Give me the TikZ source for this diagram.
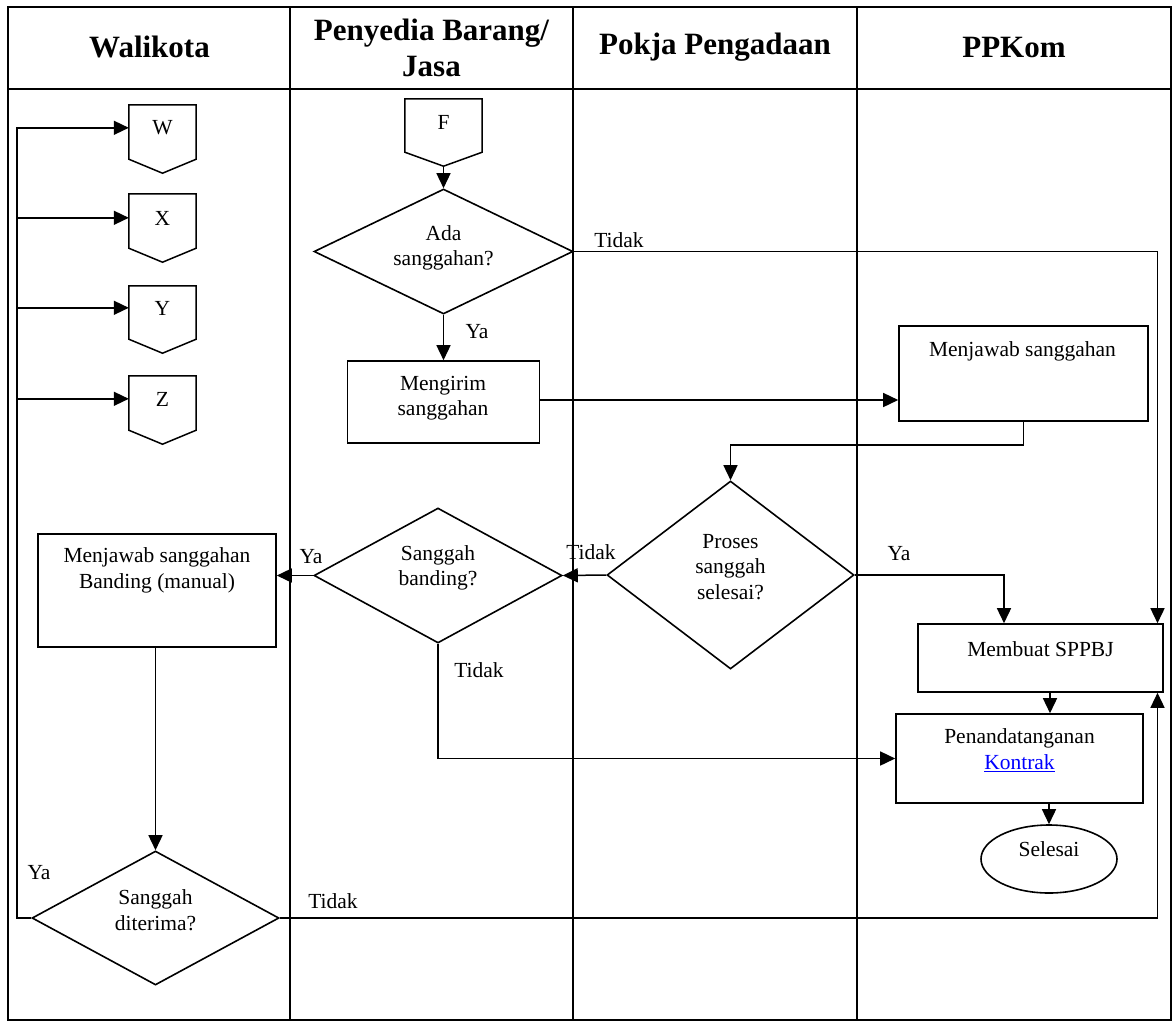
\documentclass[tikz,border=0pt]{standalone}
\usepackage{fontspec}
\setmainfont{Liberation Serif}
\usetikzlibrary{arrows.meta,shapes.geometric}
\newcommand\offpageoutline[1]{%
  \draw[line width=1.5pt] (#1.north west) -- (#1.north east) -- ([yshift=14pt]#1.south east)
    -- (#1.south) -- ([yshift=14pt]#1.south west) -- cycle;}
\begin{document}
\begin{tikzpicture}[x=1pt,y=-1pt,
  lane/.style={line width=2.2pt},
  procbox/.style={draw, line width=1.6pt, rectangle, inner sep=0pt},
  decision/.style={draw, line width=1.6pt, diamond, inner sep=0pt},
  offpage/.style={rectangle, inner sep=0pt, minimum width=67pt},
  terminal/.style={draw, line width=1.6pt, ellipse, inner sep=0pt},
  conn/.style={line width=1.5pt, -{Triangle[length=15pt,width=14pt]}},
  txt/.style={font=\fontsize{21.5}{25.5}\selectfont, align=center, inner sep=0pt},
  head/.style={font=\fontsize{31}{36}\selectfont\bfseries, align=center, inner sep=0pt},
]
\useasboundingbox (0,0) rectangle (1175,1021);
\fill[white] (0,0) rectangle (1175,1021);

% swimlane table
\draw[lane] (8,7) rectangle (1171,1020);
\draw[lane] (8,89) -- (1171,89);
\foreach \x in {290,573,857} \draw[lane] (\x,7) -- (\x,1020);

\node[head] (hw) at (149.5,47) {Walikota};
\node[head] (hp) at (431.5,48) {Penyedia Barang/\\Jasa};
\node[head] (hk) at (715,47) {Pokja Pengadaan};
\node[head] (hm) at (1014,47) {PPKom};

% off-page connectors
\node[offpage, minimum height=68pt] (W) at (162.5,139) {};
\node[offpage, minimum height=68pt] (X) at (162.5,228) {};
\node[offpage, minimum height=67pt] (Y) at (162.5,319.5) {};
\node[offpage, minimum height=68pt] (Z) at (162.5,410) {};
\node[offpage, minimum width=77pt, minimum height=67pt] (F) at (443.5,132.5) {};
\foreach \n in {W,X,Y,Z,F} {\offpageoutline{\n}}
\node[txt] (Wt) at (162.5,128) {W};
\node[txt] (Xt) at (162.5,218) {X};
\node[txt] (Yt) at (162.5,308) {Y};
\node[txt] (Zt) at (162.5,399) {Z};
\node[txt] (Ft) at (443.5,122) {F};

% decisions
\node[decision, minimum width=259pt, minimum height=125pt] (ada) at (443.5,251.5) {};
\node[decision, minimum width=248pt, minimum height=135pt] (sb) at (438,575.5) {};
\node[decision, minimum width=247pt, minimum height=188pt] (pro) at (730.5,575) {};
\node[decision, minimum width=247pt, minimum height=134pt] (dter) at (155.5,918) {};
\node[txt] (adat) at (443.5,248) {Ada\\sanggahan?};
\node[txt] (sbt) at (438,568) {Sanggah\\banding?};
\node[txt] (prot) at (730.5,567) {Proses\\sanggah\\selesai?};
\node[txt] (dtert) at (155.5,910) {Sanggah\\diterima?};

% processes
\node[procbox, minimum width=192pt, minimum height=82pt] (mengirim) at (443.5,402) {};
\node[procbox, minimum width=249pt, minimum height=95pt] (menjawab) at (1023.5,373.5) {};
\node[procbox, minimum width=238pt, minimum height=113pt] (banding) at (157,590.5) {};
\node[procbox, minimum width=245pt, minimum height=68pt] (membuat) at (1040.5,658) {};
\node[procbox, minimum width=247pt, minimum height=89pt] (penand) at (1019.5,758.5) {};
\node[terminal, minimum width=136pt, minimum height=68pt] (selesai) at (1049,859) {};
\node[txt] (mengirimt) at (443,398) {Mengirim\\sanggahan};
\node[txt] (menjawabt) at (1022.5,351) {Menjawab sanggahan};
\node[txt] (bandingt) at (157,570.5) {Menjawab sanggahan\\Banding (manual)};
\node[txt] (membuatt) at (1040.5,649) {Membuat SPPBJ};
\node[txt] (penandt) at (1019.5,750) {Penandatanganan\\\textcolor{blue}{\underline{Kontrak}}};
\node[txt] (selesait) at (1049,849) {Selesai};

% branch labels
\node[txt] (l1) at (477,332) {Ya};
\node[txt] (l2) at (619,240) {Tidak};
\node[txt] (l3) at (591,552) {Tidak};
\node[txt] (l4) at (899,554) {Ya};
\node[txt] (l5) at (311,557) {Ya};
\node[txt] (l6) at (479,670) {Tidak};
\node[txt] (l7) at (39,873) {Ya};
\node[txt] (l8) at (333,901) {Tidak};

% rails
\coordinate (loop) at (17,918);
\coordinate (rail) at (1157.5,918);
\coordinate (Win) at ([yshift=-23pt]W.north west);
\coordinate (Xin) at ([yshift=-24pt]X.north west);
\coordinate (Yin) at ([yshift=-22pt]Y.north west);
\coordinate (Zin) at ([yshift=-23pt]Z.north west);
\coordinate (mbout) at ([xshift=9.5pt]membuat.south);
\coordinate (mbin) at ([xshift=-36.5pt]membuat.north);

% connectors
\draw[conn] (F.south) -- (ada.north);
\draw[conn] (ada.south) -- (mengirim.north);
\draw[conn] (ada.east) -| (rail |- membuat.north);
\draw[conn] ([yshift=2pt]mengirim.east) -- ([yshift=2pt]mengirim.east -| menjawab.west);
\draw[conn] (menjawab.south) -- ++(0,23) -| (pro.north);
\draw[conn] (pro.west) -- (sb.east);
\draw[conn] (pro.east) -| (mbin);
\draw[conn] (sb.west) -- (sb.west -| banding.east);
\draw[conn] (sb.south) |- (penand.west);
\draw[conn] (mbout) -- (mbout |- penand.north);
\draw[conn] (selesai.north |- penand.south) -- (selesai.north);
\draw[conn] (dter.north |- banding.south) -- (dter.north);
\draw[conn] (dter.east) -| (rail |- membuat.south);
\draw[conn] (dter.west) -- (loop) |- (Win);
\foreach \p in {Xin,Yin,Zin} \draw[conn] (\p -| loop) -- (\p);
\end{tikzpicture}
\end{document}
